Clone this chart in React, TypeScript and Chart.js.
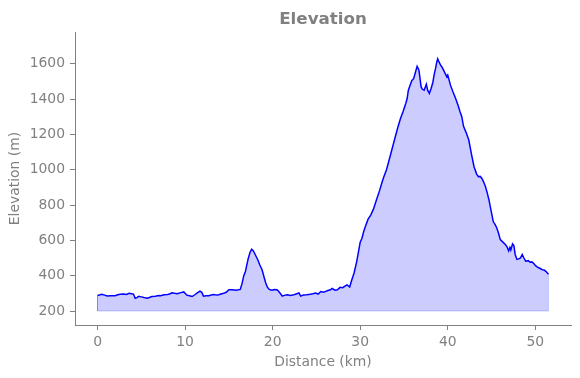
import React, { useEffect, useRef } from "react";
import { Chart, registerables } from "chart.js";

Chart.register(...registerables);

const distanceKm: number[] = [
  0.0, 0.3, 0.5, 0.8, 1.1, 1.5, 2.0, 2.3, 2.6, 3.0, 3.3, 3.6, 3.9, 4.1, 4.3, 4.5, 4.7, 5.0, 5.3, 5.7,
  6.0, 6.2, 6.6, 7.0, 7.2, 7.6, 8.0, 8.3, 8.5, 8.8, 9.1, 9.5, 9.85, 10.0, 10.2, 10.5, 10.8, 11.1, 11.4, 11.7,
  11.9, 12.1, 12.4, 12.7, 13.0, 13.3, 13.6, 13.85, 14.1, 14.4, 14.7, 15.0, 15.4, 15.8, 16.1, 16.3, 16.5, 16.7, 16.9, 17.0,
  17.2, 17.4, 17.6, 17.8, 18.0, 18.3, 18.5, 18.8, 19.0, 19.2, 19.4, 19.6, 19.9, 20.2, 20.5, 20.7, 20.9, 21.1, 21.4, 21.7,
  22.0, 22.3, 22.6, 23.0, 23.2, 23.5, 23.9, 24.3, 24.6, 24.9, 25.2, 25.5, 25.8, 26.0, 26.3, 26.6, 26.8, 27.1, 27.4, 27.7,
  28.0, 28.3, 28.5, 28.8, 29.0, 29.3, 29.6, 29.8, 30.0, 30.2, 30.4, 30.6, 30.9, 31.2, 31.5, 31.9, 32.2, 32.5, 32.7, 33.0,
  33.25, 33.6, 34.0, 34.3, 34.6, 34.9, 35.2, 35.35, 35.5, 35.7, 35.9, 36.1, 36.3, 36.5, 36.7, 36.85, 36.95, 37.1, 37.3, 37.45,
  37.55, 37.7, 37.9, 38.1, 38.3, 38.45, 38.6, 38.75, 38.85, 39.0, 39.2, 39.35, 39.6, 39.9, 40.0, 40.3, 40.6, 40.9, 41.2, 41.4,
  41.6, 41.8, 42.1, 42.4, 42.7, 43.0, 43.3, 43.5, 43.7, 43.9, 44.1, 44.3, 44.5, 44.7, 44.9, 45.1, 45.2, 45.4, 45.6, 45.8,
  46.0, 46.3, 46.6, 46.8, 46.95, 47.1, 47.2, 47.4, 47.55, 47.7, 47.9, 48.1, 48.3, 48.5, 48.7, 48.9, 49.2, 49.4, 49.6, 49.8,
  50.0, 50.2, 50.5, 50.8, 51.0, 51.2, 51.5,
];

const elevationM: number[] = [
  288, 292, 295, 290, 285, 286, 286, 292, 295, 296, 294, 300, 298, 296, 272, 276, 283, 280, 276, 272,
  278, 282, 284, 288, 286, 292, 294, 298, 303, 300, 298, 304, 308, 300, 290, 286, 282, 292, 303, 313,
  306, 284, 286, 287, 291, 293, 290, 292, 296, 300, 306, 320, 320, 318, 320, 322, 355, 400, 425, 450,
  495, 530, 550, 540, 520, 490, 465, 432, 395, 360, 335, 322, 318, 322, 320, 310, 298, 284, 290, 292,
  288, 290, 295, 302, 284, 290, 292, 295, 298, 302, 296, 310, 306, 310, 316, 320, 328, 318, 320, 334,
  332, 342, 348, 336, 370, 415, 480, 535, 590, 612, 650, 680, 720, 743, 775, 835, 880, 930, 960, 1000,
  1045, 1110, 1185, 1240, 1290, 1330, 1375, 1400, 1450, 1478, 1505, 1515, 1550, 1585, 1565, 1510, 1470, 1455, 1450, 1470,
  1484, 1450, 1432, 1460, 1495, 1540, 1572, 1610, 1628, 1610, 1590, 1580, 1555, 1525, 1535, 1480, 1440, 1403, 1360, 1328,
  1300, 1245, 1210, 1168, 1090, 1017, 975, 960, 962, 950, 930, 905, 870, 830, 780, 730, 705, 690, 670, 640,
  604, 590, 575, 560, 540, 560, 545, 580, 570, 520, 492, 495, 500, 520, 500, 482, 485, 476, 478, 470,
  458, 450, 442, 434, 432, 425, 408,
];

const fillBase = 200;
const xTickStep = 10;
const yTickStep = 200;
const chartTitle = "Elevation";
const xLabel = "Distance (km)";
const yLabel = "Elevation (m)";

export default function App() {
  const canvasRef = useRef<HTMLCanvasElement | null>(null);

  useEffect(() => {
    if (!canvasRef.current) return;
    const gray = "#808080";
    const family = "'DejaVu Sans', sans-serif";
    const pts = distanceKm.map((x, i) => ({ x, y: elevationM[i] }));
    const last = distanceKm.length - 1;
    const edge = [
      { x: distanceKm[0], y: elevationM[0] },
      { x: distanceKm[0], y: fillBase },
      { x: distanceKm[last], y: fillBase },
      { x: distanceKm[last], y: elevationM[last] },
    ];
    const xMin = distanceKm[0], xMax = distanceKm[last];
    const yMinD = fillBase, yMaxD = 1704;
    const xm = (xMax - xMin) * 0.05;
    const ym = (yMaxD - yMinD) * 0.05;

    const chart = new Chart(canvasRef.current, {
      type: "line",
      data: {
        datasets: [
          {
            data: pts,
            borderColor: "#0000ff",
            borderWidth: 1.5,
            backgroundColor: "rgba(0,0,255,0.2)",
            fill: { value: fillBase },
            pointRadius: 0,
            tension: 0,
            order: 1,
          },
          {
            data: edge,
            borderColor: "rgba(0,0,255,0.2)",
            borderWidth: 1,
            fill: false,
            pointRadius: 0,
            tension: 0,
            order: 2,
          },
        ],
      },
      options: {
        animation: false,
        responsive: true,
        maintainAspectRatio: false,
        layout: { padding: { left: 0, right: 9, top: 0, bottom: 0 } },
        plugins: {
          legend: { display: false },
          tooltip: { enabled: false },
          title: {
            display: true,
            text: chartTitle,
            fullSize: false,
            color: gray,
            font: { family, size: 16.7, weight: "bold" },
            padding: { top: 10, bottom: 2 },
          },
        },
        scales: {
          x: {
            type: "linear",
            min: xMin - xm,
            max: xMax + xm,
            afterFit: (s: any) => { s.height = 53; },
            border: { display: true, color: gray, width: 1 },
            grid: { display: true, drawOnChartArea: false, tickLength: 5, tickColor: gray },
            ticks: {
              stepSize: xTickStep,
              includeBounds: false,
              color: gray,
              padding: 4,
              maxRotation: 0,
              font: { family, size: 13.9 },
              callback: (v: any) => String(v),
            },
            title: {
              display: true,
              text: xLabel,
              color: gray,
              font: { family, size: 13.9 },
              padding: { top: 0, bottom: 7 },
            },
          },
          y: {
            type: "linear",
            min: yMinD - ym - 4,
            max: yMaxD + ym,
            afterFit: (s: any) => { s.width = 75; },
            border: { display: true, color: gray, width: 1 },
            grid: { display: true, drawOnChartArea: false, tickLength: 5, tickColor: gray },
            ticks: {
              stepSize: yTickStep,
              includeBounds: false,
              color: gray,
              padding: 5,
              font: { family, size: 13.9 },
              callback: (v: any) => String(v),
            },
            title: {
              display: true,
              text: yLabel,
              color: gray,
              font: { family, size: 13.9 },
              padding: { top: 7, bottom: 0 },
            },
          },
        },
      },
    } as any);
    return () => chart.destroy();
  }, []);

  return (
    <div style={{ position: "absolute", left: 0, top: 0, width: 580, height: 378, background: "#fff" }}>
      <canvas ref={canvasRef} />
    </div>
  );
}
